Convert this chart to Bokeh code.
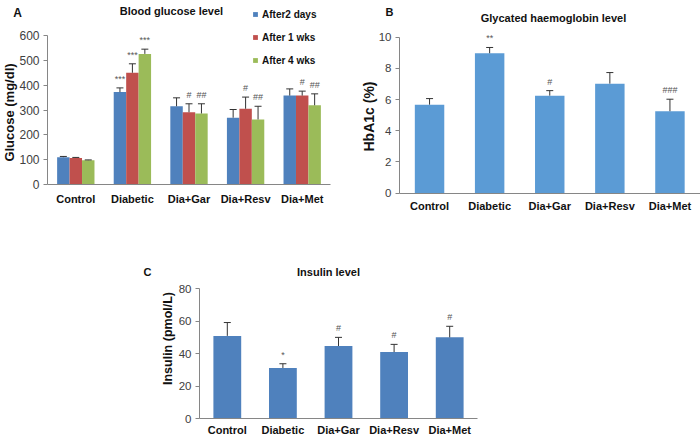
import math
from bokeh.plotting import figure
from bokeh.models import Range1d, FixedTicker, Label, Legend, LegendItem, ColumnDataSource
from bokeh.layouts import column, row
from bokeh.embed import file_html
from bokeh.resources import INLINE
from bokeh.core.properties import value

# ---------------- data ----------------
categories = ["Control", "Diabetic", "Dia+Gar", "Dia+Resv", "Dia+Met"]

# Panel A: blood glucose (mg/dl)
glucose_2days = [110, 372, 315, 269, 358]
glucose_2days_se = [3, 17, 34, 33, 27]
glucose_1wk = [107, 450, 291, 305, 358]
glucose_1wk_se = [2, 36, 34, 47, 18]
glucose_4wk = [98, 526, 286, 262, 319]
glucose_4wk_se = [1, 19, 39, 53, 46]
sig_2days = ["", "***", "", "", ""]
sig_1wk = ["", "***", "#", "#", "#"]
sig_4wk = ["", "***", "##", "##", "##"]
series_names = ["After2 days", "After 1 wks", "After 4 wks"]
glucose_ticks = [0, 100, 200, 300, 400, 500, 600]

# Panel B: HbA1c (%)
hba1c = [5.67, 8.97, 6.25, 7.02, 5.25]
hba1c_se = [0.39, 0.37, 0.32, 0.71, 0.77]
sig_hba1c = ["", "**", "#", "", "###"]
hba1c_ticks = [0, 2, 4, 6, 8, 10]

# Panel C: insulin (pmol/L)
insulin = [50.9, 31.2, 44.7, 41.0, 50.0]
insulin_se = [8.2, 2.6, 5.3, 4.7, 6.8]
sig_insulin = ["", "*", "#", "#", "#"]
insulin_ticks = [0, 20, 40, 60, 80]

# ---------------- style ----------------
FONT = "Liberation Sans"
AXIS_GREY = "#868686"
TICK_TEXT = "#404040"
DARK = "#111111"
BLUE, RED, GREEN = "#4F81BD", "#C0504D", "#9BBB59"
LIGHT_BLUE = "#5B9BD5"
ERR = "#333333"
N = len(categories)


class Panel:
    """A figure whose frame fills the whole figure; both axes are drawn at
    fixed locations inside it so that every text can sit anywhere."""

    def __init__(self, width, height, axis_x_px, right_px, top_px, axis_y_px, ticks, tick_size, label_standoff):
        self.height = height
        ymax = ticks[-1]
        ppx = (right_px - axis_x_px) / N
        xs = -0.5 - axis_x_px / ppx
        xe = xs + width / ppx
        ppy = (axis_y_px - top_px) / ymax
        ylo = -(height - axis_y_px) / ppy
        yhi = axis_y_px / ppy
        p = figure(x_range=Range1d(xs, xe), y_range=Range1d(ylo, yhi),
                   width=width, height=height, output_backend="svg", toolbar_location=None,
                   min_border_left=0, min_border_right=0, min_border_top=0, min_border_bottom=0)
        p.outline_line_color = None
        p.xgrid.grid_line_color = None
        p.ygrid.grid_line_color = None
        p.background_fill_color = "white"
        p.border_fill_color = "white"
        ya = p.yaxis[0]
        ya.fixed_location = -0.5
        ya.bounds = (0, ymax)
        ya.ticker = FixedTicker(ticks=ticks)
        ya.minor_tick_line_color = None
        ya.major_tick_out = 4
        ya.major_tick_in = 0
        ya.major_tick_line_color = AXIS_GREY
        ya.axis_line_color = AXIS_GREY
        ya.major_label_text_font = FONT
        ya.major_label_text_font_size = tick_size
        ya.major_label_text_color = TICK_TEXT
        ya.major_label_standoff = 4
        xa = p.xaxis[0]
        xa.fixed_location = 0
        xa.bounds = (-0.5, N - 0.5)
        xa.ticker = FixedTicker(ticks=list(range(N)))
        xa.major_label_overrides = {i: c for i, c in enumerate(categories)}
        xa.axis_line_color = AXIS_GREY
        xa.major_tick_line_color = None
        xa.minor_tick_line_color = None
        xa.major_tick_out = 0
        xa.major_tick_in = 0
        xa.major_label_standoff = label_standoff
        xa.major_label_text_font = FONT
        xa.major_label_text_font_style = "bold"
        xa.major_label_text_font_size = "11px"
        xa.major_label_text_color = DARK
        self.p = p

    def label(self, text, x, y, size, angle=0.0):
        # x, y: figure-local pixel position of the text centre (y from the top)
        self.p.add_layout(Label(x=x, y=self.height - y, x_units="screen", y_units="screen",
                                text=text, angle=angle, text_align="center", text_baseline="middle",
                                text_font=FONT, text_font_size=size, text_font_style="bold",
                                text_color=DARK))

    def bars(self, vals, se, sig, offset, width, color, ann_size="9px"):
        src = ColumnDataSource(dict(x=[i + offset for i in range(N)], val=vals,
                                    top=[v + s for v, s in zip(vals, se)], sig=sig))
        p = self.p
        r = p.vbar(x="x", top="val", width=width, source=src, fill_color=color, line_color=None)
        p.segment(x0="x", y0="val", x1="x", y1="top", source=src, line_color=ERR, line_width=1)
        p.scatter(x="x", y="top", marker="dash", size=7, source=src, line_color=ERR, line_width=1)
        p.text(x="x", y="top", text="sig", source=src, text_align="center", text_baseline="bottom",
               y_offset=-4, text_font=value(FONT), text_font_size=ann_size, text_color="#555555")
        return r


# ---------------- Panel A ----------------
A = Panel(350, 218, 47, 330, 35, 184, glucose_ticks, "12px", 8)
rA = []
for vals, se, sig, off, col in [(glucose_2days, glucose_2days_se, sig_2days, -0.22, BLUE),
                                (glucose_1wk, glucose_1wk_se, sig_1wk, 0.0, RED),
                                (glucose_4wk, glucose_4wk_se, sig_4wk, 0.22, GREEN)]:
    rA.append(A.bars(vals, se, sig, off, 0.22, col))
legA = Legend(items=[LegendItem(label=n, renderers=[r]) for n, r in zip(series_names, rA)],
              location=(252, A.height - 66), orientation="vertical", glyph_width=6, glyph_height=6,
              label_height=12, spacing=11, padding=0, margin=0, label_standoff=4,
              border_line_color=None, background_fill_alpha=0,
              label_text_font=FONT, label_text_font_style="bold", label_text_font_size="10px",
              label_text_color=DARK)
A.p.add_layout(legA, "center")
A.label("Blood glucose level", 171, 10, "11px")
A.label("A", 17, 12, "12px")
A.label("Glucose (mg/dl)", 9, 112, "13px", angle=math.pi / 2)

# ---------------- Panel B ----------------
B = Panel(350, 218, 49, 349.5, 36.7, 192.5, hba1c_ticks, "11.5px", 7)
B.bars(hba1c, hba1c_se, sig_hba1c, 0.0, 0.49, LIGHT_BLUE, ann_size="9px")
B.label("Glycated haemoglobin level", 203, 17, "11px")
B.label("B", 39, 11, "11px")
B.label("HbA1c (%)", 18.5, 116, "14px", angle=math.pi / 2)

# ---------------- Panel C ----------------
C = Panel(700, 218, 199, 477, 70, 200.3, insulin_ticks, "11.5px", 5)
C.bars(insulin, insulin_se, sig_insulin, 0.0, 0.5, BLUE)
C.label("Insulin level", 328, 53, "11px")
C.label("C", 147, 53, "11px")
C.label("Insulin (pmol/L)", 167, 120, "12.5px", angle=math.pi / 2)

layout = column(row(A.p, B.p), C.p)
open("out.html", "w").write(file_html(layout, INLINE))
